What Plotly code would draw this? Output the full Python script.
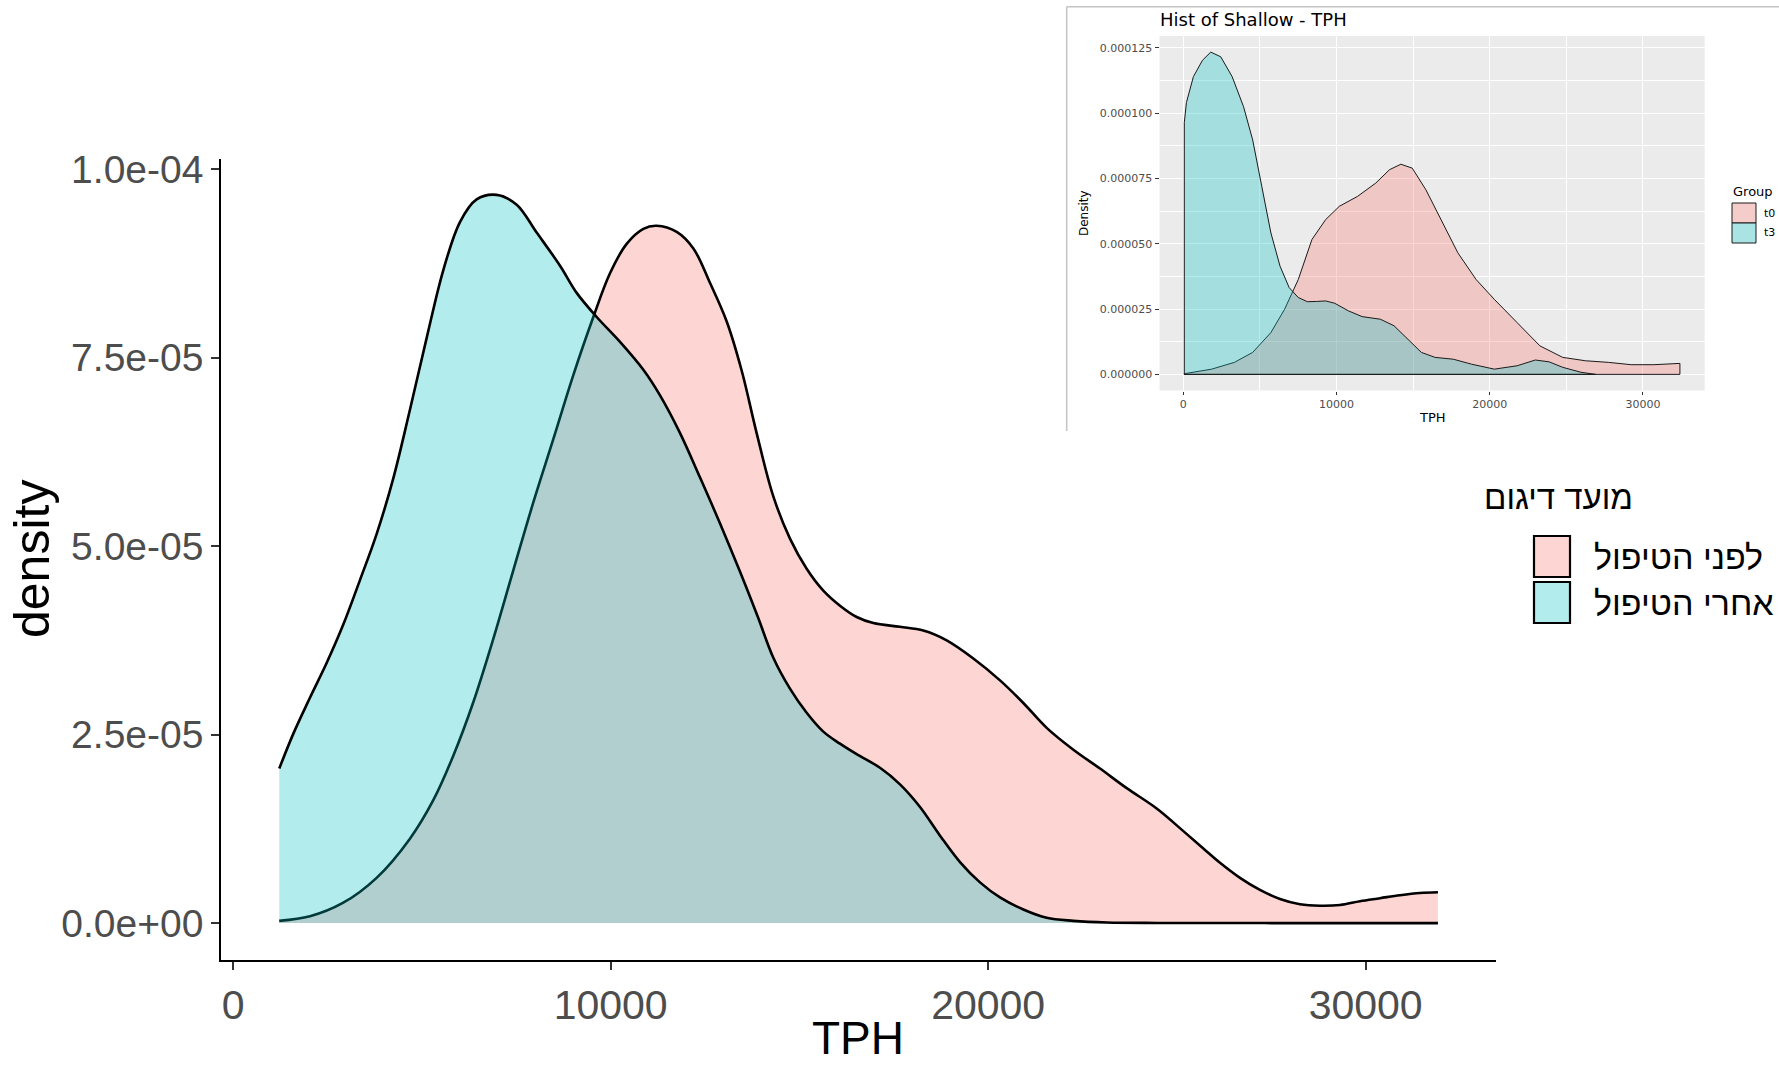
import numpy as np
import plotly.graph_objects as go

W, H = 1779, 1067

# ---------------- main chart data (density in units of 1e-6) ----------------
before_x = [1221, 2034, 2917, 3800, 4683, 5301, 5831, 6361, 6891, 7421, 7951, 8481, 9011, 9541,
            9983, 10424, 10866, 11219, 11749, 12191, 12633, 13074, 13470, 13867, 14309, 14750,
            15192, 15633, 16075, 16517, 16958, 17665, 18283, 18901, 19607, 20314, 20932, 21550,
            22257, 22963, 23670, 24464, 25171, 25700, 26141, 26671, 27200, 27730, 28260, 28790,
            29320, 29849, 30379, 30909, 31439, 31915]
before_d = [0.3, 0.9, 2.7, 6.0, 11.2, 16.3, 22.2, 29.3, 37.7, 46.8, 55.8, 64.2, 72.7, 80.4,
            86.2, 90.1, 92.1, 92.5, 91.7, 89.5, 84.9, 79.8, 73.3, 65.0, 56.6, 51.0,
            47.0, 44.1, 42.1, 40.6, 39.8, 39.3, 38.8, 37.5, 35.1, 32.2, 29.2, 25.9,
            23.0, 20.5, 17.9, 15.2, 12.2, 9.9, 8.0, 6.0, 4.4, 3.2, 2.5, 2.3,
            2.4, 2.9, 3.3, 3.7, 4.0, 4.1]

after_x = [1221, 1592, 2034, 2476, 2917, 3359, 3800, 4242, 4683, 5125, 5566, 6008, 6450, 6980,
           7510, 8040, 8659, 9100, 9630, 10248, 10866, 11308, 11838, 12368, 12898, 13428, 13900,
           14309, 14750, 15192, 15633, 16075, 16517, 17135, 17665, 18195, 18725, 19254, 19784,
           20314, 20932, 21550, 22257, 23140, 24500, 26000, 28000, 30000, 31915]
after_d = [20.5, 25.1, 29.9, 34.5, 39.6, 45.5, 51.6, 59.0, 68.1, 77.6, 86.6, 93.0, 96.0, 96.6,
           95.3, 91.6, 87.2, 83.6, 80.4, 77.1, 73.4, 70.0, 65.0, 59.1, 53.0, 46.6, 40.6,
           35.2, 31.1, 27.9, 25.4, 23.8, 22.4, 20.6, 18.4, 15.4, 11.6, 8.1, 5.4,
           3.4, 1.8, 0.7, 0.3, 0.08, 0.02, 0.01, 0.0, 0.0, 0.0]

main_groups = ["לפני הטיפול", "אחרי הטיפול"]
legend_title = "מועד דיגום"
main_xticks = [0, 10000, 20000, 30000]
main_xticktext = ["0", "10000", "20000", "30000"]
main_yticks = [0, 2.5e-05, 5.0e-05, 7.5e-05, 1.0e-04]
main_yticktext = ["0.0e+00", "2.5e-05", "5.0e-05", "7.5e-05", "1.0e-04"]

# ---------------- inset data (density in units of 1e-6) ----------------
t0_x = [60, 1845, 3333, 4524, 5714, 6607, 7500, 8393, 9286, 10179, 11369, 12560, 13452, 14196,
        14940, 15833, 16726, 17917, 19107, 20298, 21786, 23274, 24762, 26250, 27738, 29226,
        30714, 32351, 32411]
t0_d = [0.25, 2.0, 4.6, 8.4, 16.0, 24.9, 36.3, 51.6, 59.2, 64.3, 68.1, 73.2, 78.3, 80.4,
        78.9, 70.6, 60.4, 46.5, 36.3, 28.7, 19.8, 10.9, 6.5, 5.2, 4.6, 3.7,
        3.7, 4.2, 4.2]
t3_x = [60, 200, 655, 1250, 1786, 2440, 3185, 3929, 4524, 5119, 5714, 6310, 6905, 7500, 8095,
        8700, 9286, 9881, 10774, 11667, 12857, 13750, 14643, 15536, 16429, 17619, 18810,
        20298, 21786, 22976, 23869, 24762, 25952, 26845, 26900]
t3_d = [96.3, 104.0, 113.9, 120.2, 123.3, 121.5, 113.9, 102.4, 89.7, 71.9, 54.1, 41.4, 33.2,
        29.4, 27.8, 27.9, 28.1, 27.2, 24.3, 22.1, 21.1, 18.6, 13.5, 8.4, 6.5, 5.8, 3.9,
        2.0, 3.3, 5.5, 4.8, 2.7, 0.8, 0.1, 0.05]
inset_groups = ["t0", "t3"]
inset_title = "Hist of Shallow - TPH"
inset_xticks = [0, 10000, 20000, 30000]
inset_yticks = [0, 2.5e-05, 5.0e-05, 7.5e-05, 1.0e-04, 1.25e-04]

fills = ["rgba(248,118,109,0.3)", "rgba(0,191,196,0.3)"]
ticktxt_col = "#4D4D4D"
FONT = "Liberation Sans, Arial, sans-serif"
IFONT = "DejaVu Sans, sans-serif"


def px(x):
    return x / W


def py(y):
    return 1 - y / H


fig = go.Figure()

# main density curves
for xs, ds, fc, name in [(before_x, before_d, fills[0], main_groups[0]),
                         (after_x, after_d, fills[1], main_groups[1])]:
    fig.add_trace(go.Scatter(
        x=xs, y=np.array(ds) * 1e-6, mode="lines", fill="tozeroy", fillcolor=fc,
        line=dict(color="black", width=2.6, shape="spline", smoothing=1.0),
        name=name, xaxis="x", yaxis="y", hoverinfo="skip"))

# inset density polygons (outlined all round)
for xs, ds, fc, name in [(t0_x, t0_d, fills[0], inset_groups[0]),
                         (t3_x, t3_d, fills[1], inset_groups[1])]:
    polx = [xs[0]] + list(xs) + [xs[-1], xs[0]]
    poly = [0] + list(np.array(ds) * 1e-6) + [0, 0]
    fig.add_trace(go.Scatter(
        x=polx, y=poly, mode="lines", fill="toself", fillcolor=fc,
        line=dict(color="#1a1a1a", width=1),
        name=name, xaxis="x2", yaxis="y2", hoverinfo="skip"))

main_x_dom = [px(221.3), px(1495.9)]
main_y_dom = [py(959.5), py(158.7)]
ins_x_dom = [px(1159.5), px(1704.7)]
ins_y_dom = [py(390.5), py(35.9)]

fig.update_layout(
    width=W, height=H, margin=dict(l=0, r=0, t=0, b=0),
    paper_bgcolor="white", plot_bgcolor="rgba(0,0,0,0)", showlegend=False,
    xaxis=dict(domain=main_x_dom, range=[-314, 33450], anchor="y",
               tickvals=main_xticks, ticktext=main_xticktext,
               showgrid=False, zeroline=False, showline=True, linecolor="black", linewidth=2.2,
               ticks="outside", ticklen=8, tickwidth=1.6, tickcolor="#333333",
               tickfont=dict(family=FONT, size=41, color=ticktxt_col), automargin=False),
    yaxis=dict(domain=main_y_dom, range=[-4.83e-6, 101.4e-6], anchor="x",
               tickvals=main_yticks, ticktext=main_yticktext,
               showgrid=False, zeroline=False, showline=True, linecolor="black", linewidth=2.2,
               ticks="outside", ticklen=8, tickwidth=1.6, tickcolor="#333333",
               tickfont=dict(family=FONT, size=39, color=ticktxt_col), automargin=False),
    xaxis2=dict(domain=ins_x_dom, range=[-1558, 34029], anchor="y2",
                tickvals=inset_xticks, ticktext=[str(v) for v in inset_xticks],
                showgrid=True, gridcolor="white", gridwidth=1.3, zeroline=False, showline=False,
                minor=dict(dtick=5000, tick0=0, showgrid=True, gridcolor="white", gridwidth=0.6,
                           ticks=""),
                ticks="outside", ticklen=3, tickwidth=1, tickcolor="#333333",
                tickfont=dict(family=IFONT, size=11, color=ticktxt_col), automargin=False),
    yaxis2=dict(domain=ins_y_dom, range=[-6.17e-6, 129.5e-6], anchor="x2",
                tickvals=inset_yticks, ticktext=["%.6f" % v for v in inset_yticks],
                showgrid=True, gridcolor="white", gridwidth=1.3, zeroline=False, showline=False,
                minor=dict(dtick=12.5e-6, tick0=0, showgrid=True, gridcolor="white", gridwidth=0.6,
                           ticks=""),
                ticks="outside", ticklen=4, tickwidth=1, tickcolor="#333333",
                tickfont=dict(family=IFONT, size=11, color=ticktxt_col), automargin=False),
)

shapes = []
# inset panel background
shapes.append(dict(type="rect", xref="x2 domain", yref="y2 domain", x0=0, x1=1, y0=0, y1=1,
                   fillcolor="#EBEBEB", line=dict(width=0), layer="below"))
# inset screenshot frame
shapes.append(dict(type="line", xref="paper", yref="paper", x0=px(1066.7), x1=1,
                   y0=py(6.7), y1=py(6.7), line=dict(color="#C4C4C4", width=1.5)))
shapes.append(dict(type="line", xref="paper", yref="paper", x0=px(1066.7), x1=px(1066.7),
                   y0=py(6.7), y1=py(431), line=dict(color="#C4C4C4", width=1.5)))

annotations = []
# main axis titles
annotations.append(dict(text="TPH", x=px(858), y=py(1038), xref="paper", yref="paper",
                        showarrow=False, xanchor="center", yanchor="middle",
                        font=dict(family=FONT, size=46, color="black")))
annotations.append(dict(text="density", x=px(32), y=py(559), xref="paper", yref="paper",
                        showarrow=False, xanchor="center", yanchor="middle", textangle=-90,
                        font=dict(family=FONT, size=50, color="black")))

# main legend
annotations.append(dict(text=legend_title, x=px(1482), y=py(497), xref="paper", yref="paper",
                        showarrow=False, xanchor="left", yanchor="middle",
                        font=dict(family=FONT, size=33, color="black")))
key_tops = [536, 582]
for i, (lab, fc) in enumerate(zip(main_groups, fills)):
    t = key_tops[i]
    shapes.append(dict(type="rect", xref="paper", yref="paper", x0=px(1534), x1=px(1570),
                       y0=py(t + 41), y1=py(t), fillcolor=fc, line=dict(color="black", width=2.2)))
    annotations.append(dict(text=lab, x=px(1592), y=py(t + 21), xref="paper", yref="paper",
                            showarrow=False, xanchor="left", yanchor="middle",
                            font=dict(family=FONT, size=34, color="black")))

# inset texts
annotations.append(dict(text=inset_title, x=px(1158), y=py(20), xref="paper", yref="paper",
                        showarrow=False, xanchor="left", yanchor="middle",
                        font=dict(family=IFONT, size=18, color="black")))
annotations.append(dict(text="TPH", x=px(1432), y=py(418), xref="paper", yref="paper",
                        showarrow=False, xanchor="center", yanchor="middle",
                        font=dict(family=IFONT, size=13, color="black")))
annotations.append(dict(text="Density", x=px(1084), y=py(213), xref="paper", yref="paper",
                        showarrow=False, xanchor="center", yanchor="middle", textangle=-90,
                        font=dict(family=IFONT, size=12, color="black")))
annotations.append(dict(text="Group", x=px(1731), y=py(191), xref="paper", yref="paper",
                        showarrow=False, xanchor="left", yanchor="middle",
                        font=dict(family=IFONT, size=13, color="black")))
ikey_tops = [203, 223]
for i, (lab, fc) in enumerate(zip(inset_groups, fills)):
    t = ikey_tops[i]
    shapes.append(dict(type="rect", xref="paper", yref="paper", x0=px(1732), x1=px(1756),
                       y0=py(t + 20), y1=py(t), fillcolor="#F2F2F2", line=dict(width=0)))
    shapes.append(dict(type="rect", xref="paper", yref="paper", x0=px(1732), x1=px(1756),
                       y0=py(t + 20), y1=py(t), fillcolor=fc, line=dict(color="#1a1a1a", width=1)))
    annotations.append(dict(text=lab, x=px(1762), y=py(t + 10), xref="paper", yref="paper",
                            showarrow=False, xanchor="left", yanchor="middle",
                            font=dict(family=IFONT, size=11, color="black")))

fig.update_layout(shapes=shapes, annotations=annotations)
fig.write_html("out.html")
